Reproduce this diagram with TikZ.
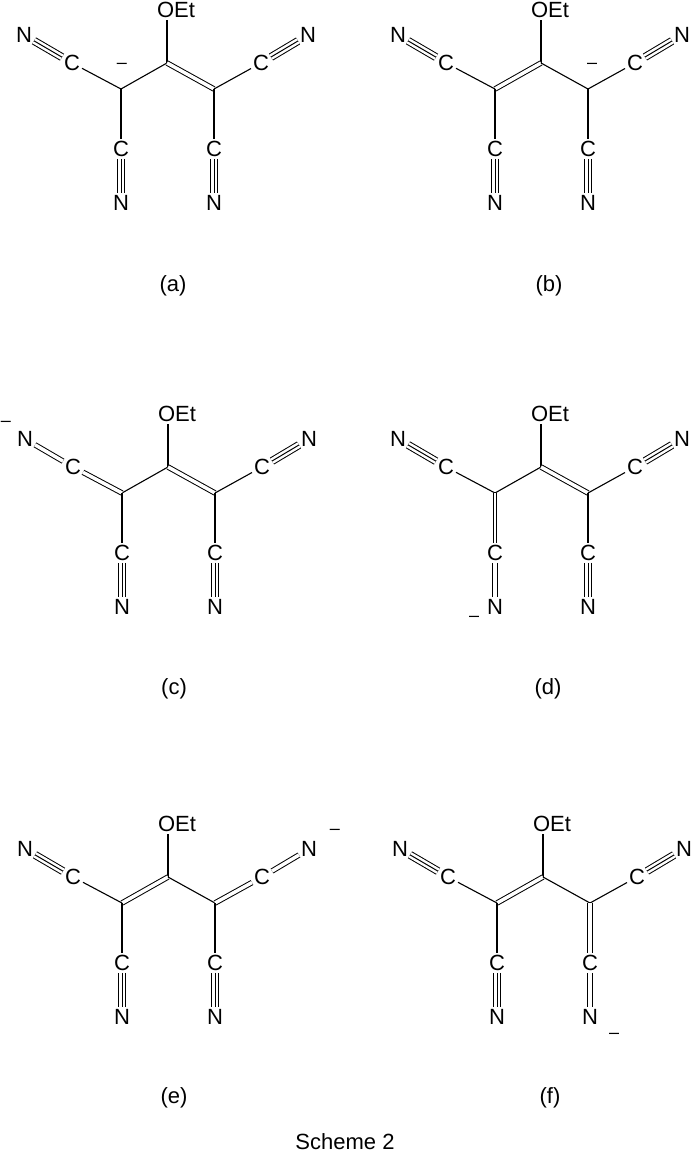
\documentclass[tikz,border=0pt]{standalone}
\usepackage{fontspec}
\setmainfont{Liberation Sans}
\begin{document}
\begin{tikzpicture}[x=1pt,y=1pt,line width=1.1pt,
  atom/.style={inner sep=1.5pt,font=\fontsize{22}{26}\selectfont},
  lbl/.style={inner sep=0pt,font=\fontsize{22}{26}\selectfont},
  chg/.style={inner sep=0pt,font=\fontsize{18}{20}\selectfont},
  dbl/.style={double,double distance=3.5pt,line width=1pt},
  trpl/.style={double,double distance=6pt,line width=1pt}]
\useasboundingbox (0,0) rectangle (691,-1158);
\newcommand\molnodes[3]{%
\begin{scope}[shift={(#2,#3)}]
\coordinate (#1c) at (0,0);
\coordinate (#1l) at (-46,-26);
\coordinate (#1r) at (47,-26);
\node[atom] (#1o) at (9,53) {OEt};
\node[atom] (#1lc) at (-95,0) {C};
\node[atom] (#1ln) at (-143,28) {N};
\node[atom] (#1rc) at (94,0) {C};
\node[atom] (#1rn) at (141,28) {N};
\node[atom] (#1blc) at (-46,-86) {C};
\node[atom] (#1bln) at (-46,-140) {N};
\node[atom] (#1brc) at (47,-86) {C};
\node[atom] (#1brn) at (47,-140) {N};
\end{scope}
\draw (#1c) -- (#1c |- #1o.south);}
\newcommand\trip[2]{\draw[trpl] (#1) -- (#2); \draw[line width=1pt] (#1) -- (#2);}
% (a)
\molnodes{a}{167}{-63}
\draw (ac) -- (al); \draw[dbl] (ac) -- (ar);
\draw (al) -- (alc); \trip{alc}{aln}
\draw (al) -- (ablc); \trip{ablc}{abln}
\draw (ar) -- (arc); \trip{arc}{arn}
\draw (ar) -- (abrc); \trip{abrc}{abrn}
\node[chg] (am) at (122,-66) {\textendash};
\node[lbl] (la) at (173,-286) {(a)};
% (b)
\molnodes{b}{541}{-63}
\draw[dbl] (bc) -- (bl); \draw (bc) -- (br);
\draw (bl) -- (blc); \trip{blc}{bln}
\draw (bl) -- (bblc); \trip{bblc}{bbln}
\draw (br) -- (brc); \trip{brc}{brn}
\draw (br) -- (bbrc); \trip{bbrc}{bbrn}
\node[chg] (bm) at (592,-66) {\textendash};
\node[lbl] (lb) at (549,-286) {(b)};
% (c)
\molnodes{c}{168}{-467}
\draw (cc) -- (cl); \draw[dbl] (cc) -- (cr);
\draw[dbl] (cl) -- (clc); \draw[dbl] (clc) -- (cln);
\draw (cl) -- (cblc); \trip{cblc}{cbln}
\draw (cr) -- (crc); \trip{crc}{crn}
\draw (cr) -- (cbrc); \trip{cbrc}{cbrn}
\node[chg] (cm) at (6,-424) {\textendash};
\node[lbl] (lc) at (174,-689) {(c)};
% (d)
\molnodes{d}{541}{-467}
\draw (dc) -- (dl); \draw[dbl] (dc) -- (dr);
\draw (dl) -- (dlc); \trip{dlc}{dln}
\draw[dbl,double distance=2.5pt] (dl) -- (dblc); \draw[dbl] (dblc) -- (dbln);
\draw (dr) -- (drc); \trip{drc}{drn}
\draw (dr) -- (dbrc); \trip{dbrc}{dbrn}
\node[chg] (dm) at (474,-619) {\textendash};
\node[lbl] (ld) at (548,-689) {(d)};
% (e)
\molnodes{e}{168}{-877}
\draw[dbl] (ec) -- (el); \draw (ec) -- (er);
\draw (el) -- (elc); \trip{elc}{eln}
\draw (el) -- (eblc); \trip{eblc}{ebln}
\draw[dbl] (er) -- (erc); \draw[dbl] (erc) -- (ern);
\draw (er) -- (ebrc); \trip{ebrc}{ebrn}
\node[chg] (em) at (335,-832) {\textendash};
\node[lbl] (le) at (174,-1098) {(e)};
% (f)
\molnodes{f}{543}{-877}
\draw[dbl] (fc) -- (fl); \draw (fc) -- (fr);
\draw (fl) -- (flc); \trip{flc}{fln}
\draw (fl) -- (fblc); \trip{fblc}{fbln}
\draw (fr) -- (frc); \trip{frc}{frn}
\draw[dbl] (fr) -- (fbrc); \draw[dbl] (fbrc) -- (fbrn);
\node[chg] (fm) at (614,-1036) {\textendash};
\node[lbl] (lf) at (550,-1098) {(f)};
\node[lbl] (sch) at (345,-1142) {Scheme 2};
\end{tikzpicture}
\end{document}
